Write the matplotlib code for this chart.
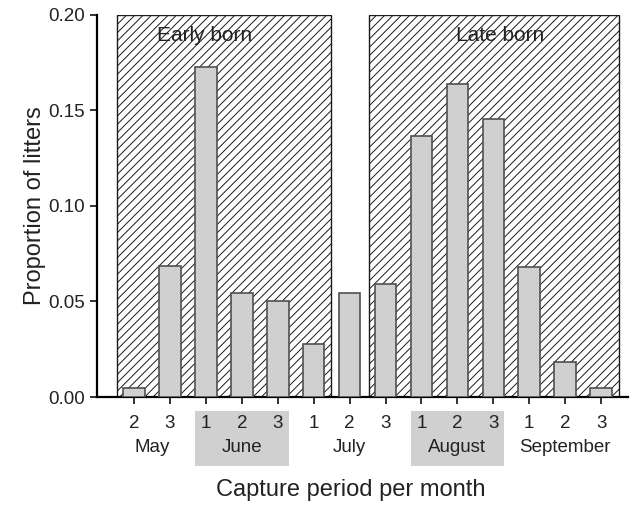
import matplotlib
matplotlib.use("Agg")
import matplotlib.pyplot as plt
import matplotlib.transforms as mtransforms
from matplotlib.patches import Rectangle

plt.rcParams['font.family'] = ['Liberation Sans', 'DejaVu Sans']
plt.rcParams['hatch.linewidth'] = 0.7

# data
months = ['May', 'June', 'July', 'August', 'September']
periods = ['2', '3', '1', '2', '3', '1', '2', '3', '1', '2', '3', '1', '2', '3']
month_of = [0, 0, 1, 1, 1, 2, 2, 2, 3, 3, 3, 4, 4, 4]
proportion = [0.0048, 0.0686, 0.1730, 0.0546, 0.0500, 0.0278, 0.0546, 0.0590,
              0.1364, 0.1638, 0.1454, 0.0682, 0.0185, 0.0045]
groups = ['Early born', 'Late born']
group_span = [(-0.47, 5.47), (6.53, 13.5)]   # in bar index units
shaded_months = ['June', 'August']

x = list(range(len(proportion)))

fig = plt.figure(figsize=(6.35, 5.08), dpi=100)
ax = fig.add_axes([0.1528, 0.2185, 0.8362, 0.752])

# hatched birth-period blocks
for name, (a, b) in zip(groups, group_span):
    ax.add_patch(Rectangle((a, 0), b - a, 0.2, facecolor='white',
                           edgecolor='#1a1a1a', hatch='////', linewidth=1.0,
                           zorder=1))
    ax.text((a + b) / 2 - 0.55 if name == 'Early born' else (a + b) / 2 + 0.17,
            0.1895, name, ha='center', va='center', fontsize=15,
            color='#222222', zorder=4)

ax.bar(x, proportion, width=0.6, facecolor='#d0d0d0', edgecolor='#505050',
       linewidth=1.2, zorder=3)

ax.set_xlim(-1.03, 13.75)
ax.set_ylim(0, 0.2)
ax.set_yticks([0, 0.05, 0.10, 0.15, 0.20])
ax.set_yticklabels(['0.00', '0.05', '0.10', '0.15', '0.20'])
ax.set_xticks(x)
ax.set_xticklabels(periods)

for s in ['top', 'right']:
    ax.spines[s].set_visible(False)
for s in ['left', 'bottom']:
    ax.spines[s].set_linewidth(1.6)
ax.tick_params(axis='both', direction='out', length=5, width=1.3,
               labelsize=13.5, colors='#222222')
ax.tick_params(axis='x', pad=8)
ax.tick_params(axis='y', pad=4)

# month labels and grey bands under June / August
trans = mtransforms.blended_transform_factory(ax.transData, ax.transAxes)
for m, name in enumerate(months):
    idx = [i for i in x if month_of[i] == m]
    lo, hi = idx[0], idx[-1]
    ax.text((lo + hi) / 2, -0.131, name, transform=trans, ha='center',
            va='center', fontsize=13.5, color='#222222')
    if name in shaded_months:
        ax.add_patch(Rectangle((lo - 0.3, -0.1806), hi - lo + 0.6, 0.144,
                               transform=trans, facecolor='#d0d0d0',
                               edgecolor='none', clip_on=False, zorder=0))

ax.set_ylabel('Proportion of litters', fontsize=17, labelpad=1,
              color='#222222')
fig.text(0.553, 0.035, 'Capture period per month', ha='center', va='center',
         fontsize=17, color='#222222')

fig.savefig('out.png', dpi=100)
